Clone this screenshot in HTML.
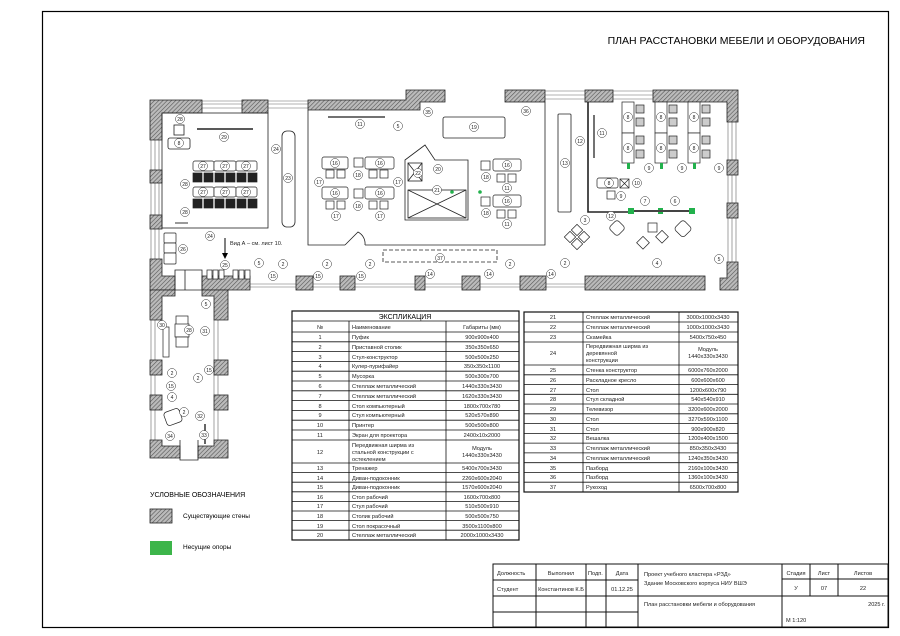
<!DOCTYPE html>
<html><head><meta charset="utf-8"><style>
html,body{margin:0;padding:0;background:#fff;}
svg{display:block;font-family:"Liberation Sans",sans-serif;}
.t{font-size:5.6px;fill:#222}
.c{font-size:5px;fill:#222;text-anchor:middle}
</style></head><body>
<svg width="900" height="636" viewBox="0 0 900 636" xmlns="http://www.w3.org/2000/svg">
<defs>
<pattern id="h" width="3" height="3" patternUnits="userSpaceOnUse" patternTransform="rotate(45)">
<rect width="3" height="3" fill="#bbb"/><line x1="0" y1="0" x2="0" y2="3" stroke="#555" stroke-width="1.2"/>
</pattern>
</defs>
<rect x="0" y="0" width="900" height="636" fill="#fff"/>
<rect x="42.5" y="11.5" width="846" height="616" fill="none" stroke="#000" stroke-width="1.2"/>
<text x="865" y="44" style="font-size:10.5px" text-anchor="end">ПЛАН РАССТАНОВКИ МЕБЕЛИ И ОБОРУДОВАНИЯ</text>

<g stroke="#666" stroke-width="0.6" fill="none">
<path d="M202 101H242M202 104H242M202 108H242 M268 101H308M268 104H308M268 108H308"/>
<path d="M545 91H585M545 95H585M545 99H585 M613 91H653M613 95H653M613 99H653"/>
<path d="M151 140V170M155 140V170M159 140V170 M151 183V215M155 183V215M159 183V215 M151 229V259M155 229V259M159 229V259"/>
<path d="M728 122V160M732 122V160M736 122V160 M728 175V203M732 175V203M736 175V203 M728 218V262M732 218V262M736 218V262"/>
<path d="M250 284H296M250 287H296 M313 284H340M313 287H340 M355 284H415M355 287H415 M425 284H462M425 287H462 M480 284H520M480 287H520 M546 284H585M546 287H585"/>
<path d="M151 320V360M155 320V360 M151 375V395M155 375V395 M151 410V440M155 410V440 M214 320V360M218 320V360 M214 375V395M218 375V395 M214 410V440M218 410V440"/>
</g>
<g fill="url(#h)" stroke="#222" stroke-width="0.8">
<path d="M150 100H202V113H162V140H150Z"/>
<rect x="242" y="100" width="26" height="13"/>
<path d="M308 100H406V90H445V102H420V110H308Z"/>
<rect x="505" y="90" width="40" height="12"/>
<rect x="585" y="90" width="28" height="12"/>
<path d="M653 90H738V122H727V102H653Z"/>
<rect x="150" y="170" width="12" height="13"/>
<rect x="150" y="215" width="12" height="14"/>
<rect x="727" y="160" width="11" height="15"/>
<rect x="727" y="203" width="11" height="15"/>
<path d="M727 262H738V290H720V278H727Z"/>
<path d="M150 259H162V276H175V290H150Z"/>
<path d="M202 276H250V290H202Z"/>
<rect x="296" y="276" width="17" height="14"/>
<rect x="340" y="276" width="15" height="14"/>
<rect x="415" y="276" width="10" height="14"/>
<rect x="462" y="276" width="18" height="14"/>
<rect x="520" y="276" width="26" height="14"/>
<rect x="585" y="276" width="120" height="14"/>
<path d="M150 290H175V296H162V320H150Z"/>
<path d="M202 290H228V320H214V296H202Z"/>
<rect x="150" y="360" width="12" height="15"/>
<rect x="214" y="360" width="14" height="15"/>
<rect x="150" y="395" width="12" height="15"/>
<rect x="214" y="395" width="14" height="15"/>
<path d="M150 440H162V446H180V458H150Z"/>
<path d="M198 446H214V440H228V458H198Z"/>
</g>
<g fill="none" stroke="#222" stroke-width="0.8">
<rect x="162" y="113" width="106" height="115"/>
<path d="M308 110V245H345M365 245H545V102"/>
<path d="M345 245L358 232 A13 13 0 0 1 365 245"/>
<path d="M588 102V212H630" stroke-width="1.6"/>
<rect x="282" y="131" width="13" height="96" rx="5"/>
<rect x="443" y="117" width="62" height="21" rx="2"/>
<rect x="558" y="114" width="13" height="98" rx="1"/>
<rect x="383" y="250" width="114" height="12" stroke-dasharray="4 2"/>
<rect x="168" y="138" width="22" height="11" rx="2"/>
<rect x="174" y="125" width="10" height="10"/>
<path d="M405 220V160L425 145L435 160H468V220Z"/>
<rect x="408" y="163" width="14" height="18"/><path d="M408 163L422 181M422 163L408 181"/>
<rect x="408" y="190" width="58" height="28"/><path d="M408 190L466 218M466 190L408 218"/>
<path d="M175 270H202V290H175Z M185 270V290 M180 440V460H198V440"/>
</g>
<line x1="197" y1="129" x2="253" y2="129" stroke="#222" stroke-width="1.5"/>
<line x1="328" y1="117" x2="385" y2="117" stroke="#444" stroke-width="1.5"/>
<line x1="594" y1="115" x2="594" y2="158" stroke="#444" stroke-width="1.5"/>
<g stroke="#222" stroke-width="0.7">
<g fill="#fff"><rect x="193" y="161" width="21" height="10" rx="2"/><rect x="214" y="161" width="22" height="10" rx="2"/><rect x="236" y="161" width="21" height="10" rx="2"/>
<rect x="193" y="187" width="21" height="10" rx="2"/><rect x="214" y="187" width="22" height="10" rx="2"/><rect x="236" y="187" width="21" height="10" rx="2"/></g>
<g fill="#222">
<rect x="193" y="173" width="9" height="9"/><rect x="204" y="173" width="9" height="9"/><rect x="215" y="173" width="9" height="9"/><rect x="226" y="173" width="9" height="9"/><rect x="237" y="173" width="9" height="9"/><rect x="248" y="173" width="9" height="9"/>
<rect x="193" y="199" width="9" height="9"/><rect x="204" y="199" width="9" height="9"/><rect x="215" y="199" width="9" height="9"/><rect x="226" y="199" width="9" height="9"/><rect x="237" y="199" width="9" height="9"/><rect x="248" y="199" width="9" height="9"/>
</g>
<g fill="#fff">
<rect x="164" y="233" width="12" height="10" rx="1"/><rect x="164" y="243" width="12" height="10" rx="1"/><rect x="164" y="253" width="12" height="11" rx="1"/>
<rect x="322" y="157" width="26" height="12" rx="2"/><rect x="365" y="157" width="29" height="12" rx="2"/>
<rect x="322" y="187" width="26" height="12" rx="2"/><rect x="365" y="187" width="29" height="12" rx="2"/>
<rect x="354" y="158" width="9" height="9"/><rect x="354" y="189" width="9" height="9"/>
<rect x="326" y="170" width="8" height="8"/><rect x="337" y="170" width="8" height="8"/><rect x="369" y="170" width="8" height="8"/><rect x="380" y="170" width="8" height="8"/>
<rect x="326" y="201" width="8" height="8"/><rect x="337" y="201" width="8" height="8"/><rect x="369" y="201" width="8" height="8"/><rect x="380" y="201" width="8" height="8"/>
<rect x="493" y="159" width="28" height="12" rx="2"/><rect x="493" y="195" width="28" height="12" rx="2"/>
<rect x="481" y="161" width="9" height="9"/><rect x="481" y="197" width="9" height="9"/>
<rect x="497" y="174" width="8" height="8"/><rect x="508" y="174" width="8" height="8"/><rect x="497" y="210" width="8" height="8"/><rect x="508" y="210" width="8" height="8"/>
<rect x="622" y="102" width="12" height="31"/><rect x="622" y="133" width="12" height="30"/>
<rect x="655" y="102" width="12" height="31"/><rect x="655" y="133" width="12" height="30"/>
<rect x="688" y="102" width="12" height="31"/><rect x="688" y="133" width="12" height="30"/>
<rect x="597" y="178" width="21" height="10" rx="2"/><rect x="620" y="179" width="9" height="9"/>
<rect x="607" y="191" width="8" height="8"/>
</g>
<path d="M620 179L629 188M629 179L620 188" fill="none"/>
<g fill="#ccc">
<rect x="636" y="105" width="8" height="8"/><rect x="636" y="118" width="8" height="8"/><rect x="636" y="136" width="8" height="8"/><rect x="636" y="150" width="8" height="8"/>
<rect x="669" y="105" width="8" height="8"/><rect x="669" y="118" width="8" height="8"/><rect x="669" y="136" width="8" height="8"/><rect x="669" y="150" width="8" height="8"/>
<rect x="702" y="105" width="8" height="8"/><rect x="702" y="118" width="8" height="8"/><rect x="702" y="136" width="8" height="8"/><rect x="702" y="150" width="8" height="8"/>
</g>
<g fill="#fff">
<rect x="573" y="226" width="8" height="8" transform="rotate(45 577 230)"/><rect x="580" y="233" width="8" height="8" transform="rotate(45 584 237)"/><rect x="566" y="233" width="8" height="8" transform="rotate(45 570 237)"/><rect x="573" y="240" width="8" height="8" transform="rotate(45 577 244)"/>
<rect x="611" y="222" width="12" height="12" rx="3" transform="rotate(45 617 228)"/>
<rect x="648" y="223" width="9" height="9"/>
<rect x="639" y="238" width="9" height="9" transform="rotate(45 643 242)"/>
<rect x="658" y="232" width="9" height="9" transform="rotate(45 662 236)"/>
<rect x="677" y="222" width="13" height="13" rx="3" transform="rotate(45 683 228)"/>
<rect x="207" y="270" width="5" height="9"/><rect x="213" y="270" width="5" height="9"/><rect x="219" y="270" width="5" height="9"/><rect x="233" y="270" width="5" height="9"/><rect x="239" y="270" width="5" height="9"/><rect x="245" y="270" width="5" height="9"/>
<rect x="176" y="316" width="12" height="10"/><rect x="175" y="324" width="14" height="13"/><rect x="176" y="337" width="12" height="10"/>
<rect x="165" y="410" width="16" height="14" rx="3" transform="rotate(-20 173 417)"/>
<rect x="163" y="327" width="6" height="30"/>
</g>
</g>
<g fill="#22b14c"><rect x="628" y="208" width="6" height="6"/><rect x="658" y="208" width="5" height="6"/><rect x="689" y="208" width="6" height="6"/>
<rect x="627" y="163" width="3" height="6"/><rect x="660" y="163" width="3" height="6"/><rect x="693" y="163" width="3" height="6"/>
<circle cx="452" cy="192" r="1.8"/><circle cx="480" cy="192" r="1.8"/></g>
<path d="M634 211H689" stroke="#444" stroke-width="2"/>
<path d="M225 238V256" stroke="#000" stroke-width="1"/><path d="M222 253L225 259L228 253Z"/>
<path d="M175 223H188" stroke="#000" stroke-width="0.8"/>
<text x="230" y="245" class="t">Вид А – см. лист 10.</text>
<path d="M205 424V444" stroke="#000" stroke-width="1.2"/>
<g fill="#fff" stroke="#333" stroke-width="0.5">
<circle cx="180" cy="119" r="4.5"/><circle cx="179" cy="143" r="4.5"/><circle cx="224" cy="137" r="4.5"/>
<circle cx="203" cy="166" r="4.5"/><circle cx="225" cy="166" r="4.5"/><circle cx="246" cy="166" r="4.5"/>
<circle cx="203" cy="192" r="4.5"/><circle cx="225" cy="192" r="4.5"/><circle cx="246" cy="192" r="4.5"/>
<circle cx="185" cy="184" r="4.5"/><circle cx="185" cy="212" r="4.5"/><circle cx="276" cy="149" r="4.5"/><circle cx="288" cy="178" r="4.5"/>
<circle cx="210" cy="236" r="4.5"/><circle cx="183" cy="249" r="4.5"/><circle cx="225" cy="265" r="4.5"/>
<circle cx="360" cy="124" r="4.5"/><circle cx="398" cy="126" r="4.5"/><circle cx="428" cy="112" r="4.5"/><circle cx="474" cy="127" r="4.5"/><circle cx="526" cy="111" r="4.5"/>
<circle cx="335" cy="163" r="4.5"/><circle cx="380" cy="163" r="4.5"/><circle cx="335" cy="193" r="4.5"/><circle cx="380" cy="193" r="4.5"/>
<circle cx="358" cy="175" r="4.5"/><circle cx="358" cy="206" r="4.5"/><circle cx="319" cy="182" r="4.5"/><circle cx="398" cy="182" r="4.5"/><circle cx="336" cy="216" r="4.5"/><circle cx="380" cy="216" r="4.5"/>
<circle cx="418" cy="173" r="4.5"/><circle cx="438" cy="169" r="4.5"/><circle cx="437" cy="190" r="4.5"/>
<circle cx="507" cy="165" r="4.5"/><circle cx="507" cy="201" r="4.5"/><circle cx="486" cy="177" r="4.5"/><circle cx="486" cy="213" r="4.5"/><circle cx="507" cy="188" r="4.5"/><circle cx="507" cy="224" r="4.5"/>
<circle cx="565" cy="163" r="4.5"/><circle cx="580" cy="141" r="4.5"/><circle cx="602" cy="133" r="4.5"/><circle cx="611" cy="216" r="4.5"/>
<circle cx="628" cy="117" r="4.5"/><circle cx="628" cy="148" r="4.5"/><circle cx="661" cy="117" r="4.5"/><circle cx="661" cy="148" r="4.5"/><circle cx="694" cy="117" r="4.5"/><circle cx="694" cy="148" r="4.5"/>
<circle cx="649" cy="168" r="4.5"/><circle cx="682" cy="168" r="4.5"/><circle cx="719" cy="168" r="4.5"/>
<circle cx="609" cy="183" r="4.5"/><circle cx="637" cy="183" r="4.5"/><circle cx="621" cy="196" r="4.5"/>
<circle cx="645" cy="201" r="4.5"/><circle cx="675" cy="201" r="4.5"/><circle cx="585" cy="220" r="4.5"/>
<circle cx="440" cy="258" r="4.5"/><circle cx="719" cy="259" r="4.5"/><circle cx="657" cy="263" r="4.5"/>
<circle cx="259" cy="263" r="4.5"/><circle cx="283" cy="264" r="4.5"/><circle cx="327" cy="264" r="4.5"/><circle cx="370" cy="264" r="4.5"/><circle cx="510" cy="264" r="4.5"/><circle cx="565" cy="263" r="4.5"/><circle cx="551" cy="274" r="4.5"/><circle cx="430" cy="274" r="4.5"/><circle cx="489" cy="274" r="4.5"/>
<circle cx="273" cy="276" r="4.5"/><circle cx="318" cy="276" r="4.5"/><circle cx="361" cy="276" r="4.5"/>
<circle cx="162" cy="325" r="4.5"/><circle cx="206" cy="304" r="4.5"/><circle cx="189" cy="330" r="4.5"/><circle cx="205" cy="331" r="4.5"/>
<circle cx="172" cy="373" r="4.5"/><circle cx="171" cy="386" r="4.5"/><circle cx="209" cy="370" r="4.5"/><circle cx="198" cy="378" r="4.5"/>
<circle cx="172" cy="397" r="4.5"/><circle cx="184" cy="412" r="4.5"/><circle cx="200" cy="416" r="4.5"/><circle cx="170" cy="436" r="4.5"/><circle cx="204" cy="435" r="4.5"/>
</g>
<g class="c">
<text x="180" y="121">28</text><text x="179" y="145">8</text><text x="224" y="139">29</text>
<text x="203" y="168">27</text><text x="225" y="168">27</text><text x="246" y="168">27</text>
<text x="203" y="194">27</text><text x="225" y="194">27</text><text x="246" y="194">27</text>
<text x="185" y="186">28</text><text x="185" y="214">28</text><text x="276" y="151">24</text><text x="288" y="180">23</text>
<text x="210" y="238">24</text><text x="183" y="251">26</text><text x="225" y="267">25</text>
<text x="360" y="126">11</text><text x="398" y="128">5</text><text x="428" y="114">35</text><text x="474" y="129">19</text><text x="526" y="113">36</text>
<text x="335" y="165">16</text><text x="380" y="165">16</text><text x="335" y="195">16</text><text x="380" y="195">16</text>
<text x="358" y="177">18</text><text x="358" y="208">18</text><text x="319" y="184">17</text><text x="398" y="184">17</text><text x="336" y="218">17</text><text x="380" y="218">17</text>
<text x="418" y="175">22</text><text x="438" y="171">20</text><text x="437" y="192">21</text>
<text x="507" y="167">16</text><text x="507" y="203">16</text><text x="486" y="179">18</text><text x="486" y="215">18</text><text x="507" y="190">11</text><text x="507" y="226">11</text>
<text x="565" y="165">13</text><text x="580" y="143">12</text><text x="602" y="135">11</text><text x="611" y="218">12</text>
<text x="628" y="119">8</text><text x="628" y="150">8</text><text x="661" y="119">8</text><text x="661" y="150">8</text><text x="694" y="119">8</text><text x="694" y="150">8</text>
<text x="649" y="170">9</text><text x="682" y="170">9</text><text x="719" y="170">9</text>
<text x="609" y="185">8</text><text x="637" y="185">10</text><text x="621" y="198">9</text>
<text x="645" y="203">7</text><text x="675" y="203">6</text><text x="585" y="222">3</text>
<text x="440" y="260">37</text><text x="719" y="261">5</text><text x="657" y="265">4</text>
<text x="259" y="265">5</text><text x="283" y="266">2</text><text x="327" y="266">2</text><text x="370" y="266">2</text><text x="510" y="266">2</text><text x="565" y="265">2</text><text x="551" y="276">14</text><text x="430" y="276">14</text><text x="489" y="276">14</text>
<text x="273" y="278">15</text><text x="318" y="278">15</text><text x="361" y="278">15</text>
<text x="162" y="327">30</text><text x="206" y="306">5</text><text x="189" y="332">28</text><text x="205" y="333">31</text>
<text x="172" y="375">2</text><text x="171" y="388">15</text><text x="209" y="372">15</text><text x="198" y="380">2</text>
<text x="172" y="399">4</text><text x="184" y="414">2</text><text x="200" y="418">32</text><text x="170" y="438">34</text><text x="204" y="437">33</text>
</g>

<text x="150" y="497" style="font-size:7px">УСЛОВНЫЕ ОБОЗНАЧЕНИЯ</text>
<rect x="150" y="509" width="22" height="14" fill="url(#h)" stroke="#222" stroke-width="0.8"/>
<text x="183" y="518" style="font-size:6.5px">Существующие стены</text>
<rect x="150" y="541" width="22" height="14" fill="#3cb54a"/>
<text x="183" y="549" style="font-size:6.5px">Несущие опоры</text>

<g fill="none" stroke="#111" stroke-width="0.8">
<rect x="292" y="311" width="227" height="229" stroke-width="1.2"/>
<path d="M292 321H519 M292 332H519 M349 321V540 M446 321V540"/>
<path d="M292 341.8H519M292 351.6H519M292 361.4H519M292 371.2H519M292 381H519M292 390.8H519M292 400.6H519M292 410.4H519M292 420.2H519M292 430H519M292 440H519M292 463H519"/>
<path d="M292 472.6H519M292 482.2H519M292 491.8H519M292 501.4H519M292 511H519M292 520.6H519M292 530.2H519"/>
</g>
<text x="405" y="319" style="font-size:7px" text-anchor="middle">ЭКСПЛИКАЦИЯ</text>
<g class="t">
<text x="320" y="329" text-anchor="middle">№</text><text x="352" y="329">Наименование</text><text x="482" y="329" text-anchor="middle">Габариты (мм)</text>
</g>
<g class="t">
<text x="320" y="339" text-anchor="middle">1</text><text x="352" y="339">Пуфик</text><text x="482" y="339" text-anchor="middle">900x900x400</text>
<text x="320" y="349" text-anchor="middle">2</text><text x="352" y="349">Приставной столик</text><text x="482" y="349" text-anchor="middle">350x350x650</text>
<text x="320" y="359" text-anchor="middle">3</text><text x="352" y="359">Стул-конструктор</text><text x="482" y="359" text-anchor="middle">500x500x250</text>
<text x="320" y="368" text-anchor="middle">4</text><text x="352" y="368">Кулер-пурифайер</text><text x="482" y="368" text-anchor="middle">350x350x1100</text>
<text x="320" y="378" text-anchor="middle">5</text><text x="352" y="378">Мусорка</text><text x="482" y="378" text-anchor="middle">500x300x700</text>
<text x="320" y="388" text-anchor="middle">6</text><text x="352" y="388">Стеллаж металлический</text><text x="482" y="388" text-anchor="middle">1440x330x3430</text>
<text x="320" y="398" text-anchor="middle">7</text><text x="352" y="398">Стеллаж металлический</text><text x="482" y="398" text-anchor="middle">1620x330x3430</text>
<text x="320" y="408" text-anchor="middle">8</text><text x="352" y="408">Стол компьютерный</text><text x="482" y="408" text-anchor="middle">1800x700x780</text>
<text x="320" y="417" text-anchor="middle">9</text><text x="352" y="417">Стул компьютерный</text><text x="482" y="417" text-anchor="middle">520x570x890</text>
<text x="320" y="427" text-anchor="middle">10</text><text x="352" y="427">Принтер</text><text x="482" y="427" text-anchor="middle">500x500x800</text>
<text x="320" y="437" text-anchor="middle">11</text><text x="352" y="437">Экран для проектора</text><text x="482" y="437" text-anchor="middle">2400x10x2000</text>
<text x="320" y="454" text-anchor="middle">12</text><text x="352" y="447">Передвижная ширма из</text><text x="352" y="454">стальной конструкции с</text><text x="352" y="461">остеклением</text><text x="482" y="450" text-anchor="middle">Модуль</text><text x="482" y="457" text-anchor="middle">1440x330x3430</text>
<text x="320" y="470" text-anchor="middle">13</text><text x="352" y="470">Тренажер</text><text x="482" y="470" text-anchor="middle">5400x700x3430</text>
<text x="320" y="480" text-anchor="middle">14</text><text x="352" y="480">Диван-подоконник</text><text x="482" y="480" text-anchor="middle">2260x600x2040</text>
<text x="320" y="489" text-anchor="middle">15</text><text x="352" y="489">Диван-подоконник</text><text x="482" y="489" text-anchor="middle">1570x600x2040</text>
<text x="320" y="499" text-anchor="middle">16</text><text x="352" y="499">Стол рабочий</text><text x="482" y="499" text-anchor="middle">1600x700x800</text>
<text x="320" y="508" text-anchor="middle">17</text><text x="352" y="508">Стул рабочий</text><text x="482" y="508" text-anchor="middle">510x500x910</text>
<text x="320" y="518" text-anchor="middle">18</text><text x="352" y="518">Столик рабочий</text><text x="482" y="518" text-anchor="middle">500x500x750</text>
<text x="320" y="528" text-anchor="middle">19</text><text x="352" y="528">Стол покрасочный</text><text x="482" y="528" text-anchor="middle">3500x1100x800</text>
<text x="320" y="537" text-anchor="middle">20</text><text x="352" y="537">Стеллаж металлический</text><text x="482" y="537" text-anchor="middle">2000x1000x3430</text>
</g>

<g fill="none" stroke="#111" stroke-width="0.8">
<rect x="524" y="312" width="214" height="180" stroke-width="1.2"/>
<path d="M583 312V492 M679 312V492"/>
<path d="M524 322H738M524 332H738M524 342H738M524 365H738"/>
<path d="M524 374.8H738M524 384.5H738M524 394.3H738M524 404H738M524 413.8H738M524 423.6H738M524 433.4H738M524 443.1H738M524 452.9H738M524 462.7H738M524 472.5H738M524 482.2H738"/>
</g>
<g class="t">
<text x="553" y="319" text-anchor="middle">21</text><text x="586" y="319">Стеллаж металлический</text><text x="708" y="319" text-anchor="middle">3000x1000x3430</text>
<text x="553" y="329" text-anchor="middle">22</text><text x="586" y="329">Стеллаж металлический</text><text x="708" y="329" text-anchor="middle">1000x1000x3430</text>
<text x="553" y="339" text-anchor="middle">23</text><text x="586" y="339">Скамейка</text><text x="708" y="339" text-anchor="middle">5400x750x450</text>
<text x="553" y="355" text-anchor="middle">24</text><text x="586" y="348">Передвижная ширма из</text><text x="586" y="355">деревянной</text><text x="586" y="362">конструкции</text><text x="708" y="351" text-anchor="middle">Модуль</text><text x="708" y="358" text-anchor="middle">1440x330x3430</text>
<text x="553" y="372" text-anchor="middle">25</text><text x="586" y="372">Стенка конструктор</text><text x="708" y="372" text-anchor="middle">6000x760x2000</text>
<text x="553" y="382" text-anchor="middle">26</text><text x="586" y="382">Раскладное кресло</text><text x="708" y="382" text-anchor="middle">600x600x600</text>
<text x="553" y="392" text-anchor="middle">27</text><text x="586" y="392">Стол</text><text x="708" y="392" text-anchor="middle">1200x600x790</text>
<text x="553" y="401" text-anchor="middle">28</text><text x="586" y="401">Стул складной</text><text x="708" y="401" text-anchor="middle">540x540x910</text>
<text x="553" y="411" text-anchor="middle">29</text><text x="586" y="411">Телевизор</text><text x="708" y="411" text-anchor="middle">3200x600x2000</text>
<text x="553" y="421" text-anchor="middle">30</text><text x="586" y="421">Стол</text><text x="708" y="421" text-anchor="middle">3270x590x1100</text>
<text x="553" y="431" text-anchor="middle">31</text><text x="586" y="431">Стол</text><text x="708" y="431" text-anchor="middle">900x900x820</text>
<text x="553" y="440" text-anchor="middle">32</text><text x="586" y="440">Вешалка</text><text x="708" y="440" text-anchor="middle">1200x400x1500</text>
<text x="553" y="450" text-anchor="middle">33</text><text x="586" y="450">Стеллаж металлический</text><text x="708" y="450" text-anchor="middle">850x350x3430</text>
<text x="553" y="460" text-anchor="middle">34</text><text x="586" y="460">Стеллаж металлический</text><text x="708" y="460" text-anchor="middle">1240x350x3430</text>
<text x="553" y="470" text-anchor="middle">35</text><text x="586" y="470">Пазборд</text><text x="708" y="470" text-anchor="middle">2160x100x3430</text>
<text x="553" y="479" text-anchor="middle">36</text><text x="586" y="479">Пазборд</text><text x="708" y="479" text-anchor="middle">1360x100x3430</text>
<text x="553" y="489" text-anchor="middle">37</text><text x="586" y="489">Рукоход</text><text x="708" y="489" text-anchor="middle">6500x700x800</text>
</g>

<g fill="none" stroke="#111" stroke-width="1">
<rect x="493" y="564" width="395" height="63"/>
<path d="M493 580H638 M782 579H888 M493 596H888 M493 612H638"/>
<path d="M536 564V627M586 564V627M606 564V627M638 564V627M782 564V627M810 564V596M838 564V596"/>
</g>
<g class="t">
<text x="497" y="575">Должность</text><text x="561" y="575" text-anchor="middle">Выполнил</text><text x="588" y="575">Подп.</text><text x="622" y="575" text-anchor="middle">Дата</text>
<text x="497" y="591">Студент</text><text x="561" y="591" text-anchor="middle">Константинов К.Б</text><text x="622" y="591" text-anchor="middle">01.12.25</text>
<text x="644" y="576">Проект учебного кластера «РЗД»</text><text x="644" y="585">Здание Московского корпуса НИУ ВШЭ</text>
<text x="644" y="606">План расстановки мебели и оборудования</text>
<text x="796" y="575" text-anchor="middle">Стадия</text><text x="824" y="575" text-anchor="middle">Лист</text><text x="863" y="575" text-anchor="middle">Листов</text>
<text x="796" y="590" text-anchor="middle">У</text><text x="824" y="590" text-anchor="middle">07</text><text x="863" y="590" text-anchor="middle">22</text>
<text x="885" y="606" text-anchor="end">2025 г.</text><text x="786" y="622">М 1:120</text>
</g>
</svg>
</body></html>
